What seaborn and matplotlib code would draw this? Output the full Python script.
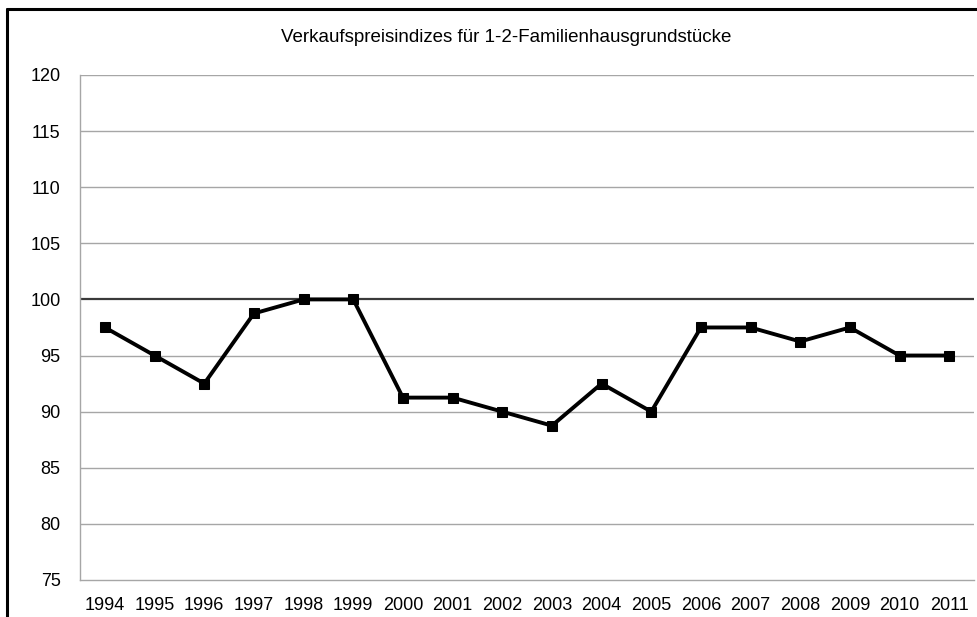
import pandas as pd
import seaborn as sns
import matplotlib.pyplot as plt
from matplotlib.lines import Line2D
import matplotlib.ticker as mtick

# Daten
jahre = [str(j) for j in range(1994, 2012)]
index_werte = [97.5, 95.0, 92.5, 98.75, 100.0, 100.0, 91.25, 91.25, 90.0,
               88.75, 92.5, 90.0, 97.5, 97.5, 96.25, 97.5, 95.0, 95.0]
y_ticks = list(range(75, 121, 5))

df = pd.DataFrame({'jahr': jahre, 'index': index_werte})

sns.set_theme(style="white")
plt.rcParams['font.family'] = ['Liberation Sans', 'DejaVu Sans']
plt.rcParams['text.color'] = 'black'

fig = plt.figure(figsize=(9.77, 6.17), dpi=100)
ax = fig.add_axes([0.082, 0.06, 0.915, 0.8185])

# Gitterlinien, 100 hervorgehoben
for y in y_ticks:
    if y == 100:
        ax.axhline(y, color='#3a3a3a', linewidth=1.6, zorder=1)
    elif y != 75:
        ax.axhline(y, color='#a6a6a6', linewidth=1.0, zorder=1)

sns.lineplot(data=df, x='jahr', y='index', ax=ax, color='black', linewidth=2.8,
             marker='s', markersize=7.5, markeredgecolor='black', zorder=3)

ax.set_ylim(75, 120)
ax.set_xlim(-0.5, len(jahre) - 0.5)
ax.set_yticks(y_ticks)
ax.set_xticks(range(len(jahre)))
ax.set_xticklabels(jahre)
ax.xaxis.set_minor_locator(mtick.FixedLocator([i - 0.5 for i in range(len(jahre) + 1)]))
ax.tick_params(axis='x', which='major', length=0, labelsize=13, pad=12, labelcolor='black')
ax.tick_params(axis='x', which='minor', length=5, width=1, color='#a6a6a6', direction='out')
ax.tick_params(axis='y', length=5, width=1, color='#a6a6a6', direction='out', labelsize=13, pad=9,
               labelcolor='black')
ax.set_xlabel('')
ax.set_ylabel('')

for s in ['top', 'right']:
    ax.spines[s].set_visible(False)
for s in ['left', 'bottom']:
    ax.spines[s].set_color('#a6a6a6')
    ax.spines[s].set_linewidth(1.0)

fig.text(0.518, 0.94, 'Verkaufspreisindizes für 1-2-Familienhausgrundstücke',
         ha='center', va='center', fontsize=13.5, color='black')

# Rahmen des Diagramms (rechts und unten abgeschnitten)
fig.add_artist(Line2D([0.0072, 0.0072], [0, 0.9855], color='black', linewidth=2.2, transform=fig.transFigure))
fig.add_artist(Line2D([0.0072, 1.0], [0.9855, 0.9855], color='black', linewidth=2.2, transform=fig.transFigure))

plt.savefig('out.png', dpi=100)
